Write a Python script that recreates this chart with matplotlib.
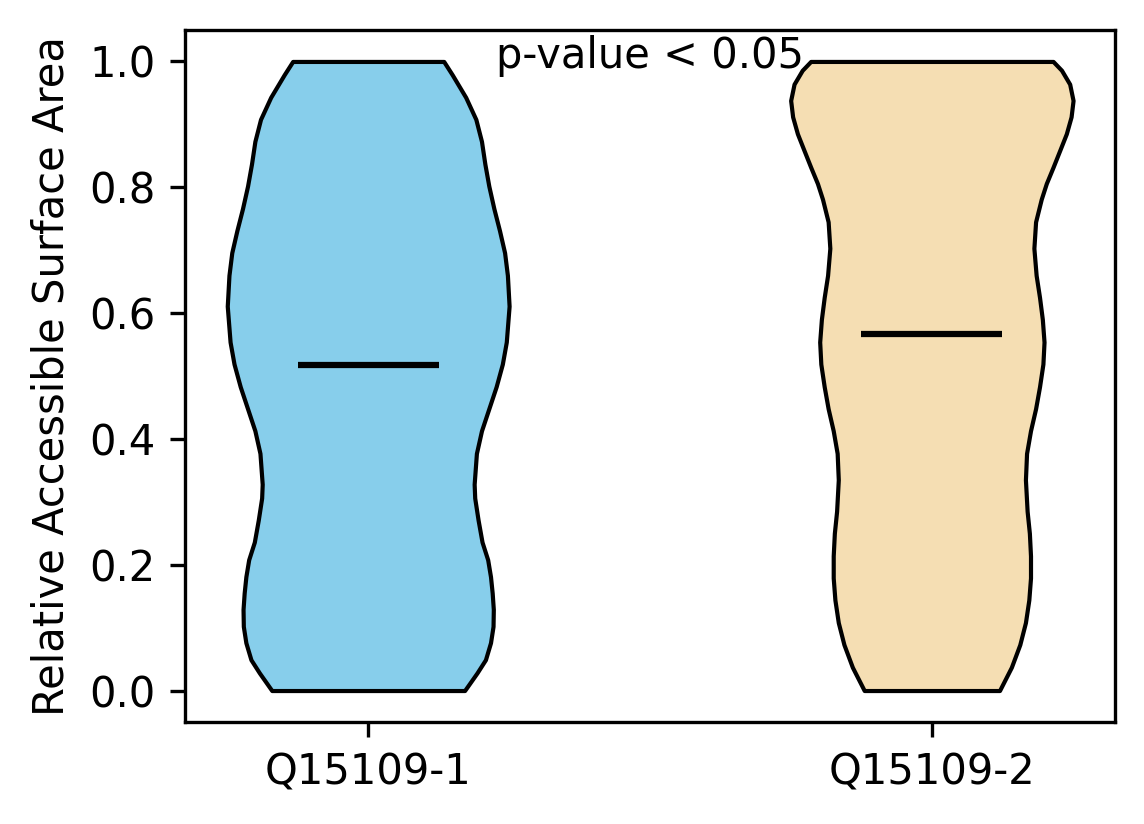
import matplotlib
matplotlib.use("Agg")
import matplotlib.pyplot as plt

# violin outlines: height -> half width (data units)
labels = ["Q15109-1", "Q15109-2"]
colors = ["skyblue", "wheat"]
medians = [0.517, 0.567]

left_y = [0.0, 0.028, 0.049, 0.076, 0.102, 0.129, 0.155, 0.181, 0.208, 0.236, 0.271,
          0.306, 0.328, 0.377, 0.413, 0.448, 0.483, 0.519, 0.554, 0.611, 0.66, 0.696,
          0.731, 0.766, 0.802, 0.837, 0.873, 0.908, 0.943, 0.979, 1.0]
left_w = [0.171, 0.193, 0.208, 0.217, 0.2215, 0.222, 0.220, 0.217, 0.212, 0.202, 0.195,
          0.189, 0.188, 0.192, 0.201, 0.214, 0.227, 0.238, 0.245, 0.250, 0.247, 0.242,
          0.233, 0.223, 0.214, 0.207, 0.201, 0.191, 0.173, 0.149, 0.134]

right_y = [0.0, 0.037, 0.073, 0.108, 0.144, 0.179, 0.214, 0.25, 0.285, 0.335, 0.377,
           0.413, 0.448, 0.483, 0.519, 0.554, 0.59, 0.625, 0.66, 0.703, 0.745, 0.781,
           0.806, 0.832, 0.859, 0.885, 0.912, 0.938, 0.964, 0.986, 1.0]
right_w = [0.120, 0.141, 0.156, 0.166, 0.172, 0.175, 0.175, 0.173, 0.169, 0.166, 0.168,
           0.175, 0.184, 0.191, 0.197, 0.199, 0.196, 0.191, 0.185, 0.181, 0.184, 0.194,
           0.203, 0.215, 0.227, 0.2385, 0.247, 0.2505, 0.2445, 0.230, 0.215]

profiles = [(left_y, left_w), (right_y, right_w)]
positions = [1, 2]

fig, ax = plt.subplots(figsize=(11.44 / 3, 8.24 / 3), dpi=300)
fig.subplots_adjust(left=0.1617, right=0.9747, top=0.9636, bottom=0.1238)

for pos, (ys, ws), col, med in zip(positions, profiles, colors, medians):
    ax.fill_betweenx(ys, [pos - w for w in ws], [pos + w for w in ws],
                     facecolor=col, edgecolor="black", linewidth=1, alpha=1,
                     joinstyle="round")
    ax.hlines(med, pos - 0.125, pos + 0.125, color="black", linewidth=1.5)

ax.set_xticks(positions)
ax.set_xticklabels(labels)
ax.set_xlim(0.675, 2.325)
ax.set_ylim(-0.05, 1.05)
ax.set_ylabel("Relative Accessible Surface Area")
ax.text(1.5, 0.99, "p-value < 0.05", ha="center")

plt.savefig("out.png", dpi=300)
